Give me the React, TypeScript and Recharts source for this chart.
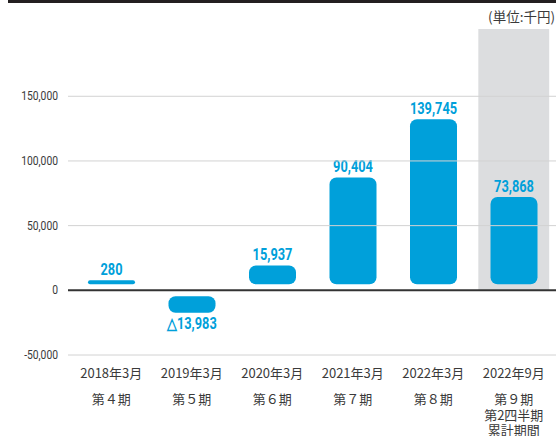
import { Bar, BarChart, ReferenceArea, ReferenceLine, XAxis, YAxis } from "recharts";

const periods = ["2018年3月", "2019年3月", "2020年3月", "2021年3月", "2022年3月", "2022年9月"];
const terms = ["第４期", "第５期", "第６期", "第７期", "第８期", "第９期"];
const termNotes = [[], [], [], [], [], ["第2四半期", "累計期間"]];
const profits = [280, -13983, 15937, 90404, 139745, 73868];
const yTicks = [-50000, 0, 50000, 100000, 150000];
const unitLabel = "(単位:千円)";
const highlighted = "2022年9月";

const data = periods.map((period, i) => ({ period, term: terms[i], notes: termNotes[i], profit: profits[i] }));

const Y_DOMAIN = [-50000, 202000];
const BAR_DOMAIN = [-54800, 221200];
const BLUE = "#00A0DA";
const TEXT = "#3a3a3a";
const SANS = "Roboto, 'Noto Sans', sans-serif";
const CJK = "'Noto Sans CJK JP', 'Noto Sans', sans-serif";

const fmt = (v: number) => (v < 0 ? "△" : "") + Math.abs(v).toLocaleString("en-US");

// narrow text (the print uses a condensed face)
function Narrow({ x, y, size, bold, fill, anchor, squeeze, children }: any) {
  return (
    <text
      transform={`translate(${x},${y}) scale(${squeeze},1)`}
      textAnchor={anchor}
      fontFamily={SANS}
      fontWeight={bold ? "bold" : "normal"}
      fontSize={size}
      fill={fill}
    >
      {children}
    </text>
  );
}

// bars float a few px off the zero line, like the printed chart
function ProfitBar(props: any) {
  const { x, y, width, height, payload } = props;
  const v = payload.profit;
  const base = y + height;
  const up = v >= 0;
  const size = Math.max(Math.abs(height), 4);
  const start = up ? base - 6 : base + 6;
  const top = up ? start - size : start;
  const r = Math.min(7, size / 2);
  return (
    <g>
      <rect x={x} y={top} width={width} height={size} rx={r} ry={r} fill={BLUE} />
      <Narrow x={x + width / 2} y={up ? top - 5 : top + size + 16} size={16} bold fill={BLUE} anchor="middle" squeeze={0.8}>
        {fmt(v)}
      </Narrow>
    </g>
  );
}

function PeriodTick(props: any) {
  const { x, y, index } = props;
  const row = data[index];
  const lines = [row.term, ...row.notes];
  return (
    <g fontFamily={CJK} fontSize={13} fill={TEXT} textAnchor="middle">
      <text x={x} y={y + 23}>{row.period}</text>
      {lines.map((t, i) => (
        <text key={i} x={x} y={y + 49 + i * 15.5}>{t}</text>
      ))}
    </g>
  );
}

function ValueTick(props: any) {
  const { x, y, payload } = props;
  return (
    <Narrow x={x} y={y + 4} size={12} fill={TEXT} anchor="end" squeeze={0.86}>
      {payload.value.toLocaleString("en-US")}
    </Narrow>
  );
}

function Band(props: any) {
  const { x, y, width, height } = props;
  const w = width * 0.88;
  return <rect x={x + (width - w) / 2} y={y} width={w} height={height} fill="#dcdddf" />;
}

export default function App() {
  return (
    <div style={{ position: "absolute", left: 0, top: 0, width: 556, height: 436, background: "#fff" }}>
      <div style={{ position: "absolute", left: 8, top: 0, width: 548, height: 3, background: "#231f20" }} />
      <div
        style={{
          position: "absolute",
          right: 1,
          top: 8,
          fontFamily: CJK,
          fontSize: 13.5,
          color: TEXT,
          lineHeight: "16px",
        }}
      >
        {unitLabel}
      </div>
      <BarChart width={556} height={436} data={data} margin={{ top: 29, right: 0, bottom: 0, left: 8 }}>
        <ReferenceArea x1={highlighted} x2={highlighted} y1={0} y2={Y_DOMAIN[1]} shape={<Band />} ifOverflow="visible" />
        {yTicks
          .filter((t) => t !== 0)
          .map((t) => (
            <ReferenceLine key={t} y={t} stroke="#d2d2d2" />
          ))}
        <XAxis
          dataKey="period"
          height={81}
          interval={0}
          tickLine={false}
          axisLine={false}
          tickSize={0}
          tickMargin={0}
          padding={{ left: 3, right: 2 }}
          tick={<PeriodTick />}
        />
        <YAxis
          width={60}
          domain={Y_DOMAIN}
          allowDataOverflow
          ticks={yTicks}
          tickLine={false}
          axisLine={false}
          tickSize={0}
          tickMargin={10}
          tick={<ValueTick />}
        />
        <YAxis yAxisId="bar" hide allowDataOverflow domain={BAR_DOMAIN} />
        <ReferenceLine y={0} stroke="#333" strokeWidth={2} />
        <Bar dataKey="profit" yAxisId="bar" barSize={47} shape={ProfitBar} isAnimationActive={false} />
      </BarChart>
    </div>
  );
}
